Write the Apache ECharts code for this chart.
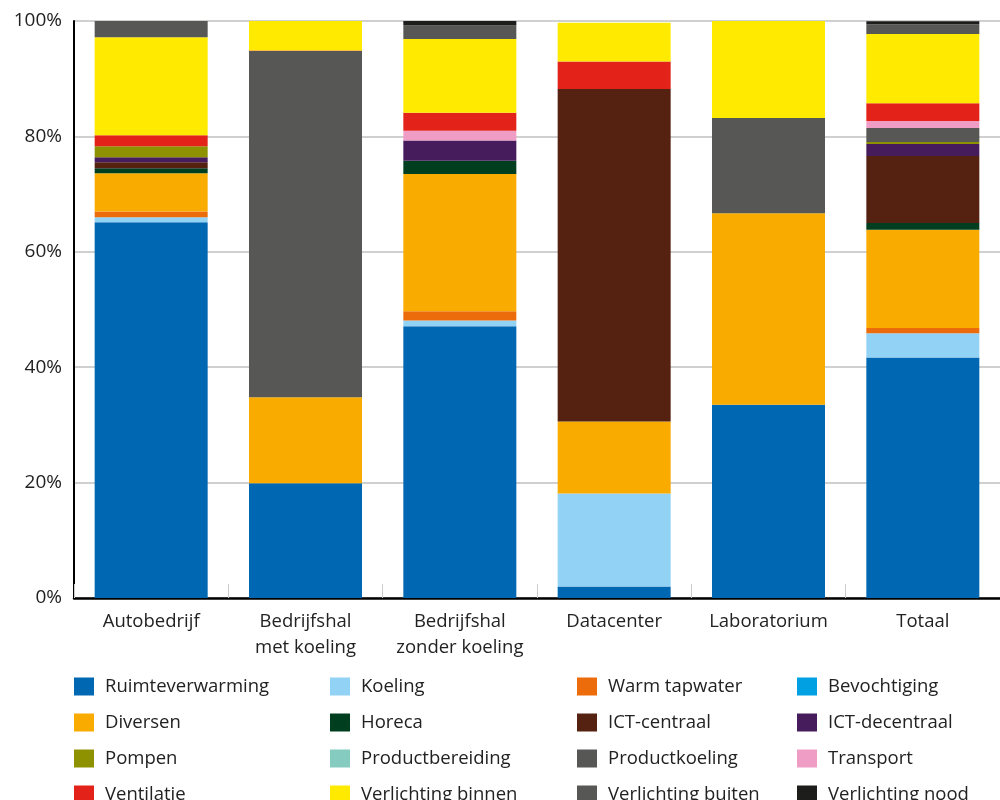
<!DOCTYPE html>
<html><head><meta charset="utf-8">
<script src="https://cdn.jsdelivr.net/npm/echarts@6/dist/echarts.min.js"></script>
<style>html,body{margin:0;padding:0;background:#fff}#c{width:1000px;height:800px}</style>
</head><body><div id="c"></div>
<script>
const categories = ['Autobedrijf','Bedrijfshal\nmet koeling','Bedrijfshal\nzonder koeling','Datacenter','Laboratorium','Totaal'];
const yTicks = [0,20,40,60,80,100];

const ruimteverwarming   = [65.1, 19.9, 47.1,  2.0, 33.5, 41.7];
const koeling            = [ 0.9,  0,    1.0, 16.1,  0,    4.2];
const warmTapwater       = [ 1.0,  0,    1.6,  0,    0,    0.9];
const bevochtiging       = [ 0,    0,    0,    0,    0,    0  ];
const diversen           = [ 6.6, 14.9, 23.8, 12.5, 33.2, 17.0];
const horeca             = [ 0.9,  0,    2.3,  0,    0,    1.2];
const ictCentraal        = [ 1.0,  0,    0,   57.6,  0,   11.6];
const ictDecentraal      = [ 0.9,  0,    3.5,  0,    0,    2.1];
const pompen             = [ 1.9,  0,    0,    0,    0,    0.35];
const productbereiding   = [ 0,    0,    0,    0,    0,    0  ];
const productkoeling     = [ 0,   60.0,  0,    0,   16.5,  2.4];
const transport          = [ 0,    0,    1.7,  0,    0,    1.2];
const ventilatie         = [ 1.9,  0.1,  3.1,  4.8,  0,    3.1];
const verlichtingBinnen  = [17.0,  5.1, 12.8,  6.7, 16.8, 12.0];
const verlichtingBuiten  = [ 2.8,  0,    2.3,  0,    0,    1.7];
const verlichtingNood    = [ 0,    0,    0.8,  0,    0,    0.5];

const seriesDefs = [
  ['Ruimteverwarming', ruimteverwarming, '#0068b2'],
  ['Koeling', koeling, '#92d2f5'],
  ['Warm tapwater', warmTapwater, '#ec6b0a'],
  ['Bevochtiging', bevochtiging, '#00a0e2'],
  ['Diversen', diversen, '#f9ab00'],
  ['Horeca', horeca, '#003e20'],
  ['ICT-centraal', ictCentraal, '#552211'],
  ['ICT-decentraal', ictDecentraal, '#461c5d'],
  ['Pompen', pompen, '#8f9200'],
  ['Productbereiding', productbereiding, '#86cbbf'],
  ['Productkoeling', productkoeling, '#575756'],
  ['Transport', transport, '#f09dc5'],
  ['Ventilatie', ventilatie, '#e32219'],
  ['Verlichting binnen', verlichtingBinnen, '#ffea00'],
  ['Verlichting buiten', verlichtingBuiten, '#575756'],
  ['Verlichting nood', verlichtingNood, '#1d1d1b']
];

const FONT = 'Open Sans';
const legendCols = [
  {left: 74,  names: ['Ruimteverwarming','Diversen','Pompen','Ventilatie']},
  {left: 330, names: ['Koeling','Horeca','Productbereiding','Verlichting binnen']},
  {left: 577, names: ['Warm tapwater','ICT-centraal','Productkoeling','Verlichting buiten']},
  {left: 797, names: ['Bevochtiging','ICT-decentraal','Transport','Verlichting nood']}
];

const chart = echarts.init(document.getElementById('c'), null, {renderer:'canvas'});
chart.setOption({
  animation: false,
  textStyle: {fontFamily: FONT},
  grid: {left: 74, top: 21, width: 936, height: 577, containLabel: false},
  legend: legendCols.map(c => ({
    orient: 'vertical', left: c.left, top: 677, width: 220, height: 200, padding: 0,
    itemWidth: 20, itemHeight: 18, itemGap: 17,
    icon: 'rect', selectedMode: false,
    data: c.names,
    textStyle: {fontFamily: FONT, fontSize: 18.5, color: '#222', lineHeight: 18, padding: [0,0,0,6]}
  })),
  xAxis: {
    type: 'category', data: categories,
    axisLine: {lineStyle: {color: '#000', width: 2.5}},
    axisTick: {show: true, interval: 0, inside: true, length: 14, lineStyle: {color: '#cccccc', width: 1}},
    axisLabel: {interval: 0, hideOverlap: false, fontFamily: FONT, fontSize: 18.5, color: '#222', margin: 11, lineHeight: 26}
  },
  yAxis: {
    type: 'value', min: 0, max: 100, interval: 20,
    axisLine: {show: true, lineStyle: {color: '#000', width: 2}},
    axisTick: {show: false},
    splitLine: {lineStyle: {color: '#d0d0d0', width: 2}},
    axisLabel: {fontFamily: FONT, fontSize: 19, color: '#222', margin: 12, formatter: v => yTicks.includes(v) ? v + '%' : ''}
  },
  series: seriesDefs.map(([name, data, color]) => ({
    name, type: 'bar', stack: 'total', data, barWidth: 113,
    itemStyle: {color}, emphasis: {disabled: true}
  }))
});
</script></body></html>
